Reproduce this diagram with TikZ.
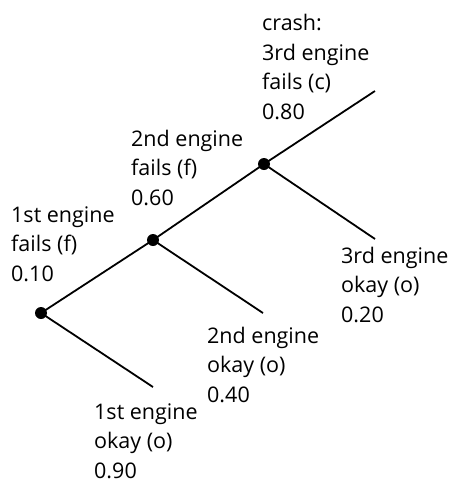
\documentclass[tikz,border=0pt]{standalone}
\usepackage{fontspec}
\setmainfont{Open Sans}
\begin{document}
\begin{tikzpicture}[x=1pt,y=-1pt,
  branch/.style={line width=1.8pt},
  dot/.style={circle,fill=black,inner sep=0pt,minimum size=12pt},
  lbl/.style={anchor=base west,align=left,inner sep=0pt,font=\fontsize{21.5}{29.5}\selectfont}]
\useasboundingbox (0,0) rectangle (454,483);
\coordinate (a) at (41,313);
\coordinate (b) at (153,240);
\coordinate (c) at (264,164);
\coordinate (cf) at (375,91);
\coordinate (co) at (375,239);
\coordinate (bo) at (263,313);
\coordinate (ao) at (153,387);
\draw[branch] (a) -- (b) -- (c) -- (cf);
\draw[branch] (c) -- (co);
\draw[branch] (b) -- (bo);
\draw[branch] (a) -- (ao);
\node[dot] (na) at (a) {};
\node[dot] (nb) at (b) {};
\node[dot] (nc) at (c) {};
\node[lbl] (l1f) at (11,281) {1st engine\\fails (f)\\0.10};
\node[lbl] (l1o) at (94,478) {1st engine\\okay (o)\\0.90};
\node[lbl] (l2f) at (131,205) {2nd engine\\fails (f)\\0.60};
\node[lbl] (l2o) at (207,402) {2nd engine\\okay (o)\\0.40};
\node[lbl] (l3f) at (262,119) {crash:\\3rd engine\\fails (c)\\0.80};
\node[lbl] (l3o) at (341,322) {3rd engine\\okay (o)\\0.20};
\end{tikzpicture}
\end{document}
